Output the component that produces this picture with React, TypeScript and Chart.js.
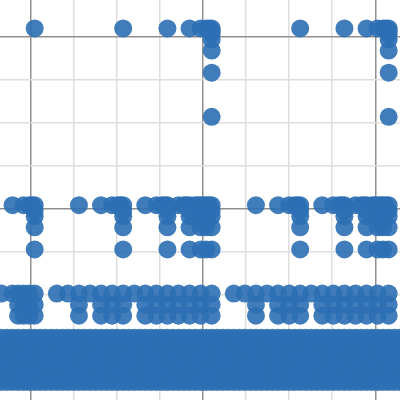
import React, { useEffect, useRef } from "react";
import { Chart, registerables } from "chart.js";

Chart.register(...registerables);

// Top level (y = 2)
const TOP_Y = 2;
const TOP_ROW_X = [0, 0.5, 0.75, 0.875, 0.9375, 0.96875, 0.984375, 1, 1.5, 1.75, 1.875, 1.9375, 1.96875, 1.984375, 2];
const TOP_COL_X = [1, 2];
const TOP_COL_Y = [1.5, 1.75, 1.875, 1.9375, 1.96875, 1.984375];

// Second level (y = 1)
const MID_Y = 1;
const MID_ROW_X = [
  -0.125, -0.0625, -0.03125, -0.015625, 0,
  0.25, 0.375, 0.4375, 0.46875, 0.484375, 0.5,
  0.625, 0.6875, 0.71875, 0.734375, 0.75,
  0.8125, 0.84375, 0.859375, 0.875,
  0.90625, 0.921875, 0.9375, 0.953125, 0.96875, 0.984375, 1,
  1.25, 1.375, 1.4375, 1.46875, 1.484375, 1.5,
  1.625, 1.6875, 1.71875, 1.734375, 1.75,
  1.8125, 1.84375, 1.859375, 1.875,
  1.90625, 1.921875, 1.9375, 1.953125, 1.96875, 1.984375, 2,
];
const MID_COL_X = [0, 0.5, 0.75, 0.875, 0.9375, 0.96875, 1, 1.5, 1.75, 1.875, 1.9375, 1.96875, 2];
const MID_COL_Y = [0.75, 0.875, 0.9375, 0.96875];

// Third level (y = 0.5 and below)
const LOW_Y = 0.5;
const LOW_ROW_X = [
  -0.1875, -0.125, -0.09375, -0.0625, -0.03125, 0,
  0.125, 0.1875, 0.25, 0.3125, 0.375, 0.4375, 0.5, 0.5625, 0.625, 0.6875, 0.75, 0.8125, 0.875, 0.9375, 1,
  1.125, 1.1875, 1.25, 1.3125, 1.375, 1.4375, 1.5, 1.5625, 1.625, 1.6875, 1.75, 1.8125, 1.875, 1.9375, 2,
];
const LOW_COL_X = [
  -0.09375, -0.0625, -0.03125, 0,
  0.25, 0.375, 0.4375, 0.5, 0.625, 0.6875, 0.75, 0.8125, 0.875, 0.9375, 1,
  1.25, 1.375, 1.4375, 1.5, 1.625, 1.6875, 1.75, 1.8125, 1.875, 1.9375, 2,
];
const LOW_COL_Y = [0.375, 0.4375];

// Dense base band
const BAND_X = [
  -0.1875, -0.15625, -0.125, -0.09375, -0.0625, -0.03125, 0, 0.03125, 0.0625, 0.09375, 0.125, 0.15625,
  0.1875, 0.21875, 0.25, 0.28125, 0.3125, 0.34375, 0.375, 0.40625, 0.4375, 0.46875, 0.5,
  0.53125, 0.5625, 0.59375, 0.625, 0.65625, 0.6875, 0.71875, 0.75, 0.78125, 0.8125, 0.84375,
  0.875, 0.90625, 0.9375, 0.96875, 1, 1.03125, 1.0625, 1.09375, 1.125, 1.15625, 1.1875, 1.21875,
  1.25, 1.28125, 1.3125, 1.34375, 1.375, 1.40625, 1.4375, 1.46875, 1.5, 1.53125, 1.5625, 1.59375,
  1.625, 1.65625, 1.6875, 1.71875, 1.75, 1.78125, 1.8125, 1.84375, 1.875, 1.90625, 1.9375, 1.96875,
  2, 2.03125, 2.0625,
];
const BAND_Y = [0, 0.03125, 0.0625, 0.09375, 0.125, 0.15625, 0.1875, 0.21875, 0.25];

// Gridline positions (value units)
const GRID_X = [-0.021, 0.222, 0.465, 0.708, 0.951, 1.194, 1.437, 1.68, 1.926];
const GRID_Y = [0.006, 0.249, 0.492, 0.735, 0.978, 1.222, 1.465, 1.708, 1.951];
const X_RANGE = [-0.196, 2.064];
const Y_RANGE = [-0.102, 2.161];

function cross(xs: number[], ys: number[]) {
  const out: { x: number; y: number }[] = [];
  for (const y of ys) for (const x of xs) out.push({ x, y });
  return out;
}

export default function App() {
  const ref = useRef<HTMLCanvasElement>(null);
  useEffect(() => {
    if (!ref.current) return;
    const data = [
      ...cross(BAND_X, BAND_Y),
      ...cross(LOW_ROW_X, [LOW_Y]),
      ...cross(LOW_COL_X, LOW_COL_Y),
      ...cross(MID_ROW_X, [MID_Y]),
      ...cross(MID_COL_X, MID_COL_Y),
      ...cross(TOP_ROW_X, [TOP_Y]),
      ...cross(TOP_COL_X, TOP_COL_Y),
    ];
    const gridOpts = (majorIdx: number[]) => ({
      drawTicks: false,
      lineWidth: 1.5,
      color: (ctx: any) => (majorIdx.includes(ctx.index) ? "#8f8f8f" : "#dedede"),
    });
    const chart = new Chart(ref.current, {
      type: "scatter",
      data: {
        datasets: [
          {
            data,
            backgroundColor: "rgba(44,111,180,0.9)",
            borderWidth: 0,
            pointRadius: 9,
            pointHoverRadius: 9,
            clip: false,
          },
        ],
      },
      options: {
        animation: false,
        responsive: true,
        maintainAspectRatio: false,
        layout: { padding: 0, autoPadding: false },
        plugins: { legend: { display: false }, tooltip: { enabled: false } },
        scales: {
          x: {
            type: "linear",
            min: X_RANGE[0],
            max: X_RANGE[1],
            ticks: { display: false },
            border: { display: false },
            grid: gridOpts([0, 4, 8]),
            afterBuildTicks: (s: any) => {
              s.ticks = GRID_X.map((v) => ({ value: v }));
            },
            afterFit: (s: any) => {
              s.height = 0;
            },
          },
          y: {
            type: "linear",
            min: Y_RANGE[0],
            max: Y_RANGE[1],
            ticks: { display: false },
            border: { display: false },
            grid: gridOpts([0, 4, 8]),
            afterBuildTicks: (s: any) => {
              s.ticks = GRID_Y.map((v) => ({ value: v }));
            },
            afterFit: (s: any) => {
              s.width = 0;
            },
          },
        },
      },
    } as any);
    return () => chart.destroy();
  }, []);
  return (
    <div style={{ position: "absolute", left: 0, top: 0, width: 400, height: 400 }}>
      <canvas ref={ref} />
    </div>
  );
}
